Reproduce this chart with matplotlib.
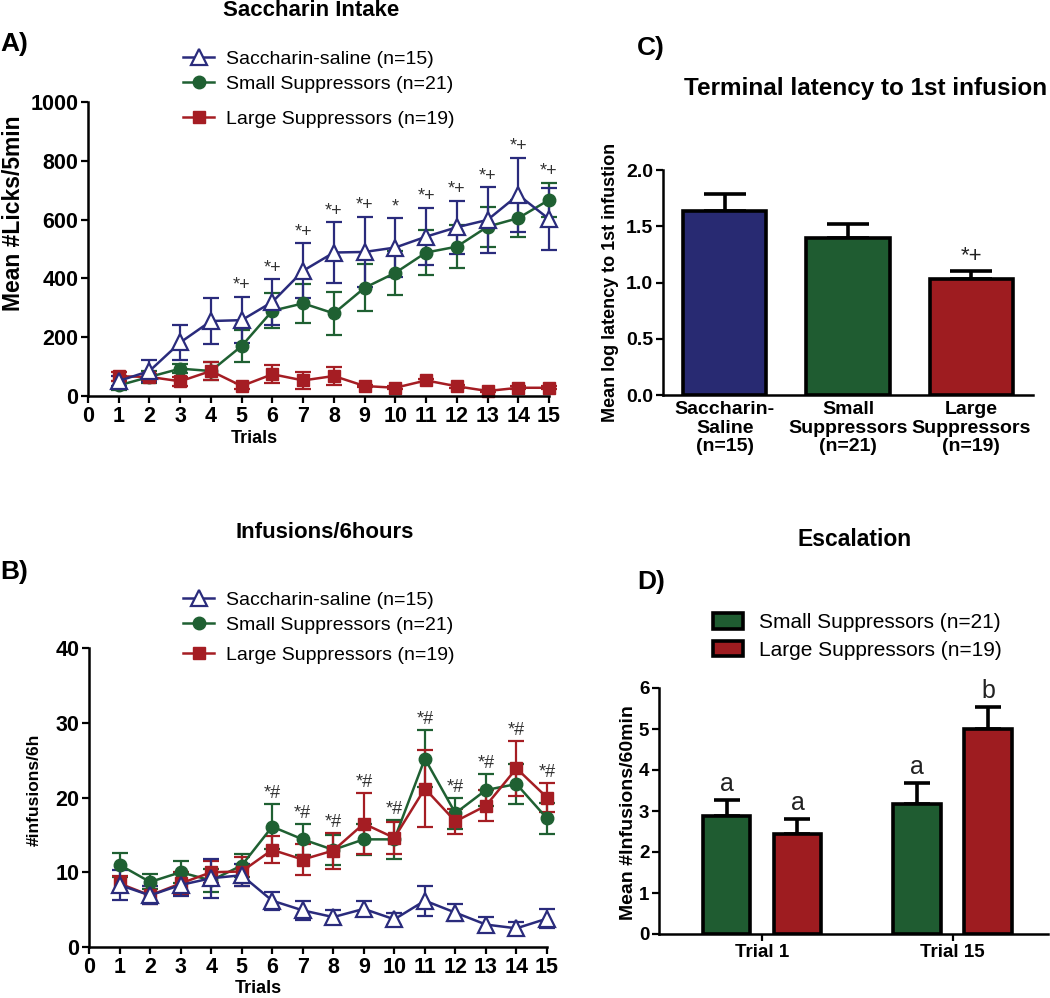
import matplotlib
matplotlib.use("Agg")
import matplotlib.pyplot as plt
import numpy as np
from matplotlib.patches import Patch

plt.rcParams["font.family"] = ["Liberation Sans", "DejaVu Sans"]

# ---- data -------------------------------------------------------------
trials = list(range(1, 16))

# A) saccharin licks / 5 min
sal_licks = [51, 85, 182, 255, 258, 320, 426, 488, 490, 505, 542, 574, 599, 684, 602]
sal_licks_sem = [18, 37, 59, 78, 79, 77, 93, 103, 120, 101, 97, 90, 111, 126, 105]
small_licks = [36, 65, 93, 85, 170, 290, 315, 281, 368, 419, 488, 508, 576, 605, 667]
small_licks_sem = [15, 20, 15, 32, 54, 59, 67, 74, 80, 75, 77, 72, 68, 63, 59]
large_licks = [67, 65, 50, 85, 34, 74, 53, 68, 34, 28, 53, 33, 17, 28, 28]
large_licks_sem = [15, 10, 15, 31, 10, 31, 29, 31, 5, 5, 5, 5, 5, 5, 5]
sig_a = ["", "", "", "", "*+", "*+", "*+", "*+", "*+", "*", "*+", "*+", "*+", "*+", "*+"]

# B) infusions / 6 h
sal_inf = [8.3, 6.9, 8.3, 9.2, 9.6, 6.2, 4.9, 4.0, 5.1, 3.7, 6.2, 4.6, 3.0, 2.5, 3.8]
sal_inf_sem = [2.0, 1.2, 1.5, 2.6, 1.5, 1.2, 1.3, 0.9, 1.0, 0.8, 2.0, 1.1, 1.0, 0.9, 1.3]
small_inf = [11.0, 8.7, 10.0, 8.9, 10.9, 16.1, 14.4, 13.0, 14.4, 14.4, 25.2, 17.9, 21.0, 21.8, 17.2]
small_inf_sem = [1.6, 1.0, 1.5, 1.5, 1.6, 3.0, 2.1, 2.0, 2.1, 2.6, 3.8, 2.1, 2.2, 2.7, 2.1]
large_inf = [8.5, 6.9, 8.5, 10.0, 10.1, 13.0, 11.7, 12.9, 16.5, 14.6, 21.2, 16.8, 18.9, 23.9, 20.0]
large_inf_sem = [1.0, 1.2, 1.5, 1.5, 2.0, 1.8, 2.1, 2.4, 4.1, 2.1, 5.1, 1.7, 2.1, 3.7, 2.0]
sig_b = [""] * 5 + ["*#"] * 10

# C) terminal latency
groups_c = ["Saccharin-\nSaline\n(n=15)", "Small\nSuppressors\n(n=21)", "Large\nSuppressors\n(n=19)"]
latency = [1.64, 1.40, 1.03]
latency_sem = [0.15, 0.12, 0.075]
sig_c = ["", "", "*+"]

# D) escalation
trials_d = ["Trial 1", "Trial 15"]
small_esc = [2.88, 3.18]
small_esc_sem = [0.38, 0.51]
large_esc = [2.44, 5.01]
large_esc_sem = [0.36, 0.53]
letters_small = ["a", "a"]
letters_large = ["a", "b"]

labels = ["Saccharin-saline (n=15)", "Small Suppressors (n=21)", "Large Suppressors (n=19)"]
BLUE, GREEN, RED = "#2a2b7c", "#1f6032", "#a51d23"
BAR_BLUE, BAR_GREEN, BAR_RED = "#282a72", "#1f5c31", "#9e1c20"

W, H = 1050, 998
fig = plt.figure(figsize=(W / 100, H / 100), dpi=100)


def px(x, y):
    return x / W, 1 - y / H


def axes_px(left, top, right, bottom):
    return fig.add_axes([left / W, 1 - bottom / H, (right - left) / W, (bottom - top) / H])


def style(ax, tick_fs):
    for s in ("top", "right"):
        ax.spines[s].set_visible(False)
    for s in ("left", "bottom"):
        ax.spines[s].set_linewidth(1.8)
    ax.tick_params(width=1.6, length=5, labelsize=tick_fs, pad=2)
    for t in ax.get_xticklabels() + ax.get_yticklabels():
        t.set_fontweight("bold")


def line_panel(ax, series, sig, ylim, yticks, off, ylabel, ylab_fs, ylab_xy):
    handles = []
    for y, e, c, kind in series:
        if kind == "tri":
            kw = dict(marker="^", ms=11, mfc="white", mec=c, mew=1.6)
        elif kind == "circ":
            kw = dict(marker="o", ms=9, mfc=c, mec=c)
        else:
            kw = dict(marker="s", ms=9, mfc=c, mec=c)
        eb = ax.errorbar(trials, y, yerr=e, color=c, lw=1.8, elinewidth=1.6, capsize=5.5,
                         capthick=1.6, clip_on=False, **kw)
        for art in eb.lines[1] + eb.lines[2]:
            art.set_clip_on(False)
        handles.append(eb.lines[0])
    tops = np.max([np.array(y) + np.array(e) for y, e, _, _ in series], axis=0)
    for t, s, top in zip(trials, sig, tops):
        if s:
            ax.text(t, top + off, s, ha="center", va="center", fontsize=13, color="#333333")
    ax.set_xlim(0, 15)
    ax.set_ylim(*ylim)
    ax.set_xticks(range(0, 16))
    ax.set_yticks(yticks)
    style(ax, 15.5)
    ax.set_xlabel("Trials", fontsize=13, fontweight="bold", labelpad=0)
    ax.set_ylabel(ylabel, fontsize=ylab_fs, fontweight="bold")
    ax.yaxis.set_label_coords(*ylab_xy)
    return handles


def line_legend(h, top_first, top_last):
    kw = dict(loc="upper left", frameon=False, fontsize=14, handlelength=1.6, handletextpad=0.6,
              labelspacing=0.4, borderpad=0, borderaxespad=0)
    fig.legend([h[2], h[0]], labels[:2], bbox_to_anchor=px(183, top_first), **kw)
    fig.legend([h[1]], labels[2:], bbox_to_anchor=px(183, top_last), **kw)


# ---- A ---------------------------------------------------------------
axA = axes_px(88, 102, 549, 396)
order_a = [(small_licks, small_licks_sem, GREEN, "circ"),
           (large_licks, large_licks_sem, RED, "sq"),
           (sal_licks, sal_licks_sem, BLUE, "tri")]
h = line_panel(axA, order_a, sig_a, (0, 1000), range(0, 1001, 200), 38,
               "Mean #Licks/5min", 16.5, (-0.137, 0.62))
axA.xaxis.set_label_coords(0.36, -0.115)
line_legend(h, 50, 110)
fig.text(*px(311, 11), "Saccharin Intake", ha="center", va="center", fontsize=16, fontweight="bold")
fig.text(*px(0, 44), "A)", ha="left", va="center", fontsize=19, fontweight="bold")

# ---- B ---------------------------------------------------------------
axB = axes_px(89, 648, 547, 947)
order_b = [(small_inf, small_inf_sem, GREEN, "circ"),
           (large_inf, large_inf_sem, RED, "sq"),
           (sal_inf, sal_inf_sem, BLUE, "tri")]
h = line_panel(axB, order_b, sig_b, (0, 40), range(0, 41, 10), 1.4,
               "#infusions/6h", 12.5, (-0.103, 0.525))
axB.xaxis.set_label_coords(0.37, -0.11)
line_legend(h, 591, 646)
fig.text(*px(325, 533), "Infusions/6hours", ha="center", va="center", fontsize=16, fontweight="bold")
fig.text(*px(0, 572), "B)", ha="left", va="center", fontsize=19, fontweight="bold")

# ---- C ---------------------------------------------------------------
axC = axes_px(663, 170, 1033, 395)
xc = np.arange(len(groups_c))
axC.bar(xc, latency, 0.675, color=[BAR_BLUE, BAR_GREEN, BAR_RED], edgecolor="black", linewidth=2.6,
        zorder=2)
axC.errorbar(xc, latency, yerr=[np.zeros(3), latency_sem], fmt="none", ecolor="black",
             elinewidth=2.6, capsize=15, capthick=2.6, zorder=1)
for x, v, e, s in zip(xc, latency, latency_sem, sig_c):
    if s:
        axC.text(x, v + e + 0.03, s, ha="center", va="bottom", fontsize=16, color="#222222")
axC.set_xlim(-0.5, 2.5)
axC.set_ylim(0, 2.0)
axC.set_yticks(np.arange(0, 2.01, 0.5))
axC.set_yticklabels([f"{v:.1f}" for v in np.arange(0, 2.01, 0.5)])
axC.set_xticks(xc)
axC.set_xticklabels(groups_c, linespacing=1.15)
style(axC, 14)
axC.tick_params(axis="x", length=0, pad=4)
axC.set_ylabel("Mean log latency to 1st infustion", fontsize=13, fontweight="bold")
axC.yaxis.set_label_coords(-0.118, 0.5)
fig.text(*px(866, 89), "Terminal latency to 1st infusion", ha="center", va="center",
         fontsize=17.5, fontweight="bold")
fig.text(*px(637, 48), "C)", ha="left", va="center", fontsize=19, fontweight="bold")

# ---- D ---------------------------------------------------------------
axD = axes_px(659, 688, 1048, 934)
xd = np.arange(len(trials_d))
off, bw = 0.186, 0.25
for vals, sems, col, lets, sgn in ((small_esc, small_esc_sem, BAR_GREEN, letters_small, -1),
                                   (large_esc, large_esc_sem, BAR_RED, letters_large, 1)):
    xs = xd + sgn * off
    axD.bar(xs, vals, bw, color=col, edgecolor="black", linewidth=2.6, zorder=2)
    axD.errorbar(xs, vals, yerr=[np.zeros(2), sems], fmt="none", ecolor="black",
                 elinewidth=2.6, capsize=9.5, capthick=2.6, zorder=1)
    for x, v, e, l in zip(xs, vals, sems, lets):
        axD.text(x, v + e + 0.1, l, ha="center", va="bottom", fontsize=18, color="#222222")
axD.set_xlim(-0.54, 1.5)
axD.set_ylim(0, 6)
axD.set_yticks(range(0, 7))
axD.set_xticks(xd)
axD.set_xticklabels(trials_d)
style(axD, 13.5)
axD.set_ylabel("Mean #Infusions/60min", fontsize=14, fontweight="bold")
axD.yaxis.set_label_coords(-0.057, 0.495)
fig.legend([Patch(facecolor=BAR_GREEN, edgecolor="black", linewidth=2.6),
            Patch(facecolor=BAR_RED, edgecolor="black", linewidth=2.6)],
           labels[1:], loc="upper left", bbox_to_anchor=px(713, 613), frameon=False,
           fontsize=15, handlelength=1.45, handleheight=0.8, handletextpad=0.75,
           labelspacing=0.4, borderpad=0, borderaxespad=0)
fig.text(*px(855, 540), "Escalation", ha="center", va="center", fontsize=16.5, fontweight="bold")
fig.text(*px(637, 582), "D)", ha="left", va="center", fontsize=19, fontweight="bold")

fig.savefig("out.png", dpi=100, facecolor="white")
